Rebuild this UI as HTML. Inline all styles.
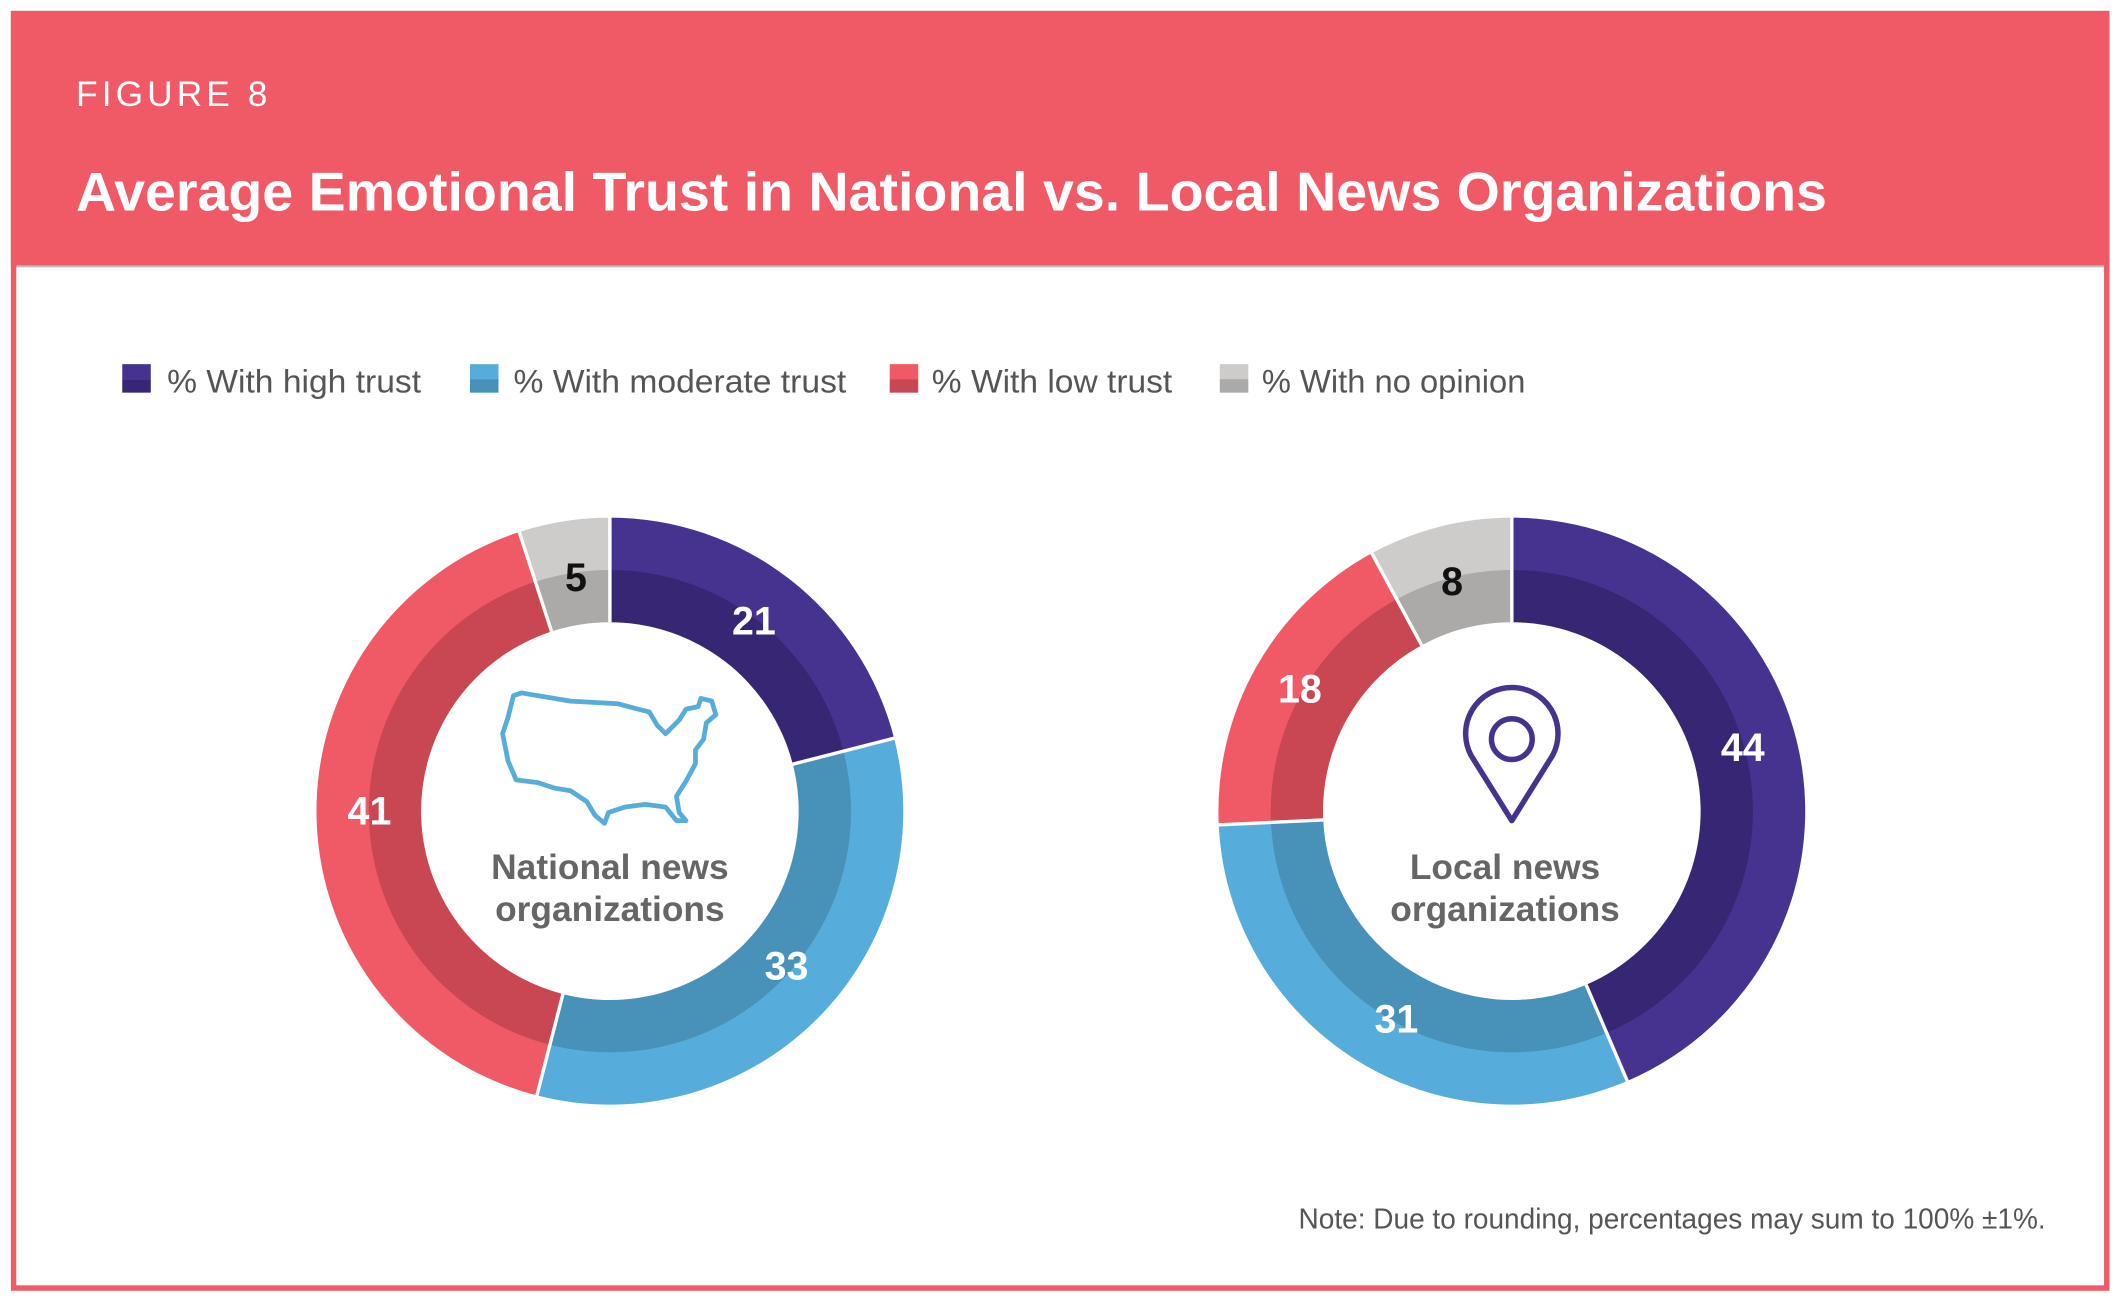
<!DOCTYPE html>
<html><head><meta charset="utf-8"><style>
html,body{margin:0;padding:0;background:#fff;}
svg{display:block;}
text{font-family:"Liberation Sans",sans-serif;}
</style></head><body>
<svg id="s" width="2119" height="1303" viewBox="0 0 1560 959" preserveAspectRatio="none" xmlns="http://www.w3.org/2000/svg">
<rect x="0" y="0" width="1560" height="959" fill="#fff"/>
<rect x="8" y="8" width="1545" height="188" fill="#EF5A66"/>
<line x1="10" y1="196" x2="1551" y2="196" fill="none" stroke="#bbb" stroke-width="1.5"/>
<rect x="10" y="10" width="1541" height="938" fill="none" stroke="#EF5A66" stroke-width="4"/>
<text x="56" y="78" fill="#fff" font-size="26" letter-spacing="3">FIGURE 8</text>
<text x="56" y="155" fill="#fff" font-size="40" font-weight="bold" textLength="1289" lengthAdjust="spacingAndGlyphs">Average Emotional Trust in National vs. Local News Organizations</text>
<g font-size="24" fill="#555">
<rect x="90" y="268" width="21" height="11" fill="#46338F"/><rect x="90" y="279" width="21" height="10" fill="#372673"/>
<text x="123" y="289" textLength="187" lengthAdjust="spacingAndGlyphs">% With high trust</text>
<rect x="346" y="268" width="21" height="11" fill="#56ADDB"/><rect x="346" y="279" width="21" height="10" fill="#4891B8"/>
<text x="378" y="289" textLength="245" lengthAdjust="spacingAndGlyphs">% With moderate trust</text>
<rect x="655" y="268" width="21" height="11" fill="#EF5A66"/><rect x="655" y="279" width="21" height="10" fill="#C94653"/>
<text x="686" y="289" textLength="177" lengthAdjust="spacingAndGlyphs">% With low trust</text>
<rect x="898" y="268" width="21" height="11" fill="#CDCCCB"/><rect x="898" y="279" width="21" height="10" fill="#ABAAA9"/>
<text x="929" y="289" textLength="194" lengthAdjust="spacingAndGlyphs">% With no opinion</text>
</g>
<g id="d"></g>
<g font-size="29" font-weight="bold" fill="#fff" text-anchor="middle">
<text x="555" y="467">21</text><text x="579" y="721">33</text><text x="272" y="607">41</text><text x="424" y="435" fill="#111">5</text>
<text x="1283" y="560">44</text><text x="1028" y="760">31</text><text x="957" y="517">18</text><text x="1069" y="438" fill="#111">8</text>
</g>
<g font-size="26" font-weight="bold" fill="#666" text-anchor="middle">
<text x="449" y="647">National news</text><text x="449" y="678">organizations</text>
<text x="1108" y="647">Local news</text><text x="1108" y="678">organizations</text>
</g>
<path d="M378,512 L384,510 L420,516 L455,518 L470,522 L478,524 L484,534 L490,540 L500,530 L505,522 L514,520 L516,514 L524,516 L527,526 L520,532 L518,544 L512,552 L512,562 L505,575 L498,586 L500,598 L505,604 L498,604 L490,594 L475,592 L460,594 L448,598 L445,606 L438,600 L432,590 L420,582 L408,580 L396,576 L380,574 L374,560 L370,540 L374,528 Z" fill="none" stroke="#56ADDB" stroke-width="3.5" stroke-linejoin="round"/>
<path d="M1113,604 L1083,556 A34,34 0 1,1 1143,556 Z" fill="none" stroke="#46338F" stroke-width="4" stroke-linejoin="round"/>
<circle cx="1113" cy="544" r="15" fill="none" stroke="#46338F" stroke-width="4"/>
<text x="1506" y="904" font-size="21" fill="#555" text-anchor="end" textLength="550" lengthAdjust="spacingAndGlyphs">Note: Due to rounding, percentages may sum to 100% ±1%.</text>
<script>
(function(){
var g=document.getElementById('d'),NS='http://www.w3.org/2000/svg';
function arc(cx,cy,r1,r2,a0,a1,fill){
 function p(r,a){return [cx+r*Math.sin(a),cy-r*Math.cos(a)];}
 var l=(a1-a0)>Math.PI?1:0,A=p(r2,a0),B=p(r2,a1),C=p(r1,a1),D=p(r1,a0);
 var e=document.createElementNS(NS,'path');
 e.setAttribute('d','M'+A+' A'+r2+','+r2+' 0 '+l+',1 '+B+' L'+C+' A'+r1+','+r1+' 0 '+l+',0 '+D+'Z');
 e.setAttribute('fill',fill);g.appendChild(e);}
function sep(cx,cy,a){var e=document.createElementNS(NS,'line');
 e.setAttribute('x1',cx+139*Math.sin(a));e.setAttribute('y1',cy-139*Math.cos(a));
 e.setAttribute('x2',cx+217*Math.sin(a));e.setAttribute('y2',cy-217*Math.cos(a));
 e.setAttribute('stroke','#fff');e.setAttribute('stroke-width','2.5');g.appendChild(e);}
var cols=[['#46338F','#372673'],['#56ADDB','#4891B8'],['#EF5A66','#C94653'],['#CDCCCB','#ABAAA9']];
function donut(cx,cy,vals){var t=0,s=vals.reduce(function(a,b){return a+b},0),a0=0;
 var angs=[];
 vals.forEach(function(v,i){var a1=a0+v/s*2*Math.PI;
  arc(cx,cy,177,216,a0,a1,cols[i][0]);arc(cx,cy,139,177.5,a0,a1,cols[i][1]);angs.push(a0);a0=a1;});
 angs.forEach(function(a){sep(cx,cy,a);});}
donut(449,597,[21,33,41,5]);
donut(1113,597,[44,31,18,8]);
})();
</script>
</svg>
</body></html>
